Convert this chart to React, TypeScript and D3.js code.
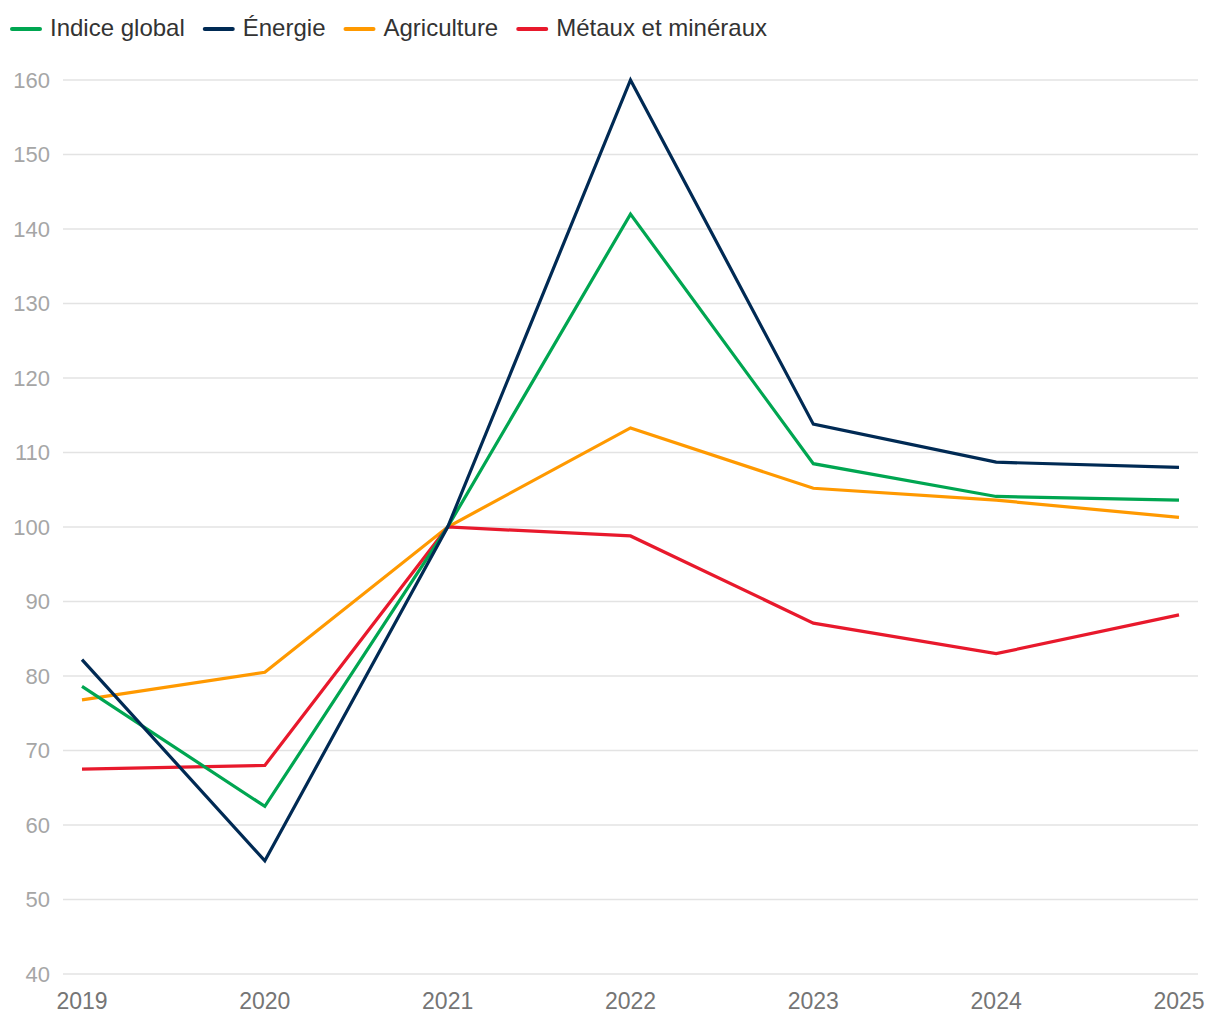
import React, { useEffect, useRef } from "react";
import * as d3 from "d3";

const years = ["2019", "2020", "2021", "2022", "2023", "2024", "2025"];
const indiceGlobal = [78.6, 62.5, 100, 142.0, 108.5, 104.1, 103.6];
const energie = [82.2, 55.2, 100, 160.0, 113.8, 108.7, 108.0];
const agriculture = [76.8, 80.5, 100, 113.3, 105.2, 103.6, 101.3];
const metaux = [67.5, 68.0, 100, 98.8, 87.1, 83.0, 88.2];
const yTicks = [40, 50, 60, 70, 80, 90, 100, 110, 120, 130, 140, 150, 160];

const seriesNames = ["Indice global", "Énergie", "Agriculture", "Métaux et minéraux"];
const seriesColors = ["#00a651", "#002a54", "#ff9900", "#e8192c"];
const seriesValues = [indiceGlobal, energie, agriculture, metaux];

const W = 1220;
const H = 1020;
const FONT = "Liberation Sans, Arial, Helvetica, sans-serif";

export default function App() {
  const ref = useRef<SVGSVGElement>(null);
  useEffect(() => {
    const svg = d3.select(ref.current);
    svg.selectAll("*").remove();
    const x = d3.scalePoint<string>().domain(years).range([82, 1179]);
    const y = d3.scaleLinear().domain([40, 160]).range([974, 80]);

    const grid = svg.append("g");
    grid
      .selectAll("line")
      .data(yTicks)
      .join("line")
      .attr("x1", 63)
      .attr("x2", 1198)
      .attr("y1", (d) => y(d))
      .attr("y2", (d) => y(d))
      .attr("stroke", "#e3e3e3")
      .attr("stroke-width", 1.5);
    grid
      .selectAll("text")
      .data(yTicks)
      .join("text")
      .attr("x", 50)
      .attr("y", (d) => y(d))
      .attr("dy", "0.36em")
      .attr("text-anchor", "end")
      .attr("font-family", FONT)
      .attr("font-size", 22)
      .attr("fill", "#a6a6a6")
      .text((d) => String(d));

    svg
      .append("g")
      .selectAll("text")
      .data(years)
      .join("text")
      .attr("x", (d) => x(d)!)
      .attr("y", 1009)
      .attr("text-anchor", "middle")
      .attr("font-family", FONT)
      .attr("font-size", 23)
      .attr("fill", "#757575")
      .text((d) => d);

    const line = d3
      .line<number>()
      .x((_, i) => x(years[i])!)
      .y((d) => y(d));

    const order = [2, 3, 0, 1];
    order.forEach((i) => {
      svg
        .append("path")
        .attr("d", line(seriesValues[i]))
        .attr("fill", "none")
        .attr("stroke", seriesColors[i])
        .attr("stroke-width", 3.2)
        .attr("stroke-linejoin", "miter");
    });

    const leg = svg.append("g");
    let lx = 11;
    seriesNames.forEach((name, i) => {
      leg
        .append("line")
        .attr("x1", lx + 1)
        .attr("x2", lx + 29)
        .attr("y1", 29)
        .attr("y2", 29)
        .attr("stroke", seriesColors[i])
        .attr("stroke-width", 4)
        .attr("stroke-linecap", "round");
      const t = leg
        .append("text")
        .attr("x", lx + 39)
        .attr("y", 36)
        .attr("font-family", FONT)
        .attr("font-size", 24)
        .attr("fill", "#333333")
        .text(name);
      const w = (t.node() as SVGTextElement).getComputedTextLength();
      lx = lx + 39 + w + 19;
    });
  }, []);
  return (
    <svg
      ref={ref}
      width={W}
      height={H}
      style={{ position: "absolute", left: 0, top: 0, background: "#fff" }}
    />
  );
}
